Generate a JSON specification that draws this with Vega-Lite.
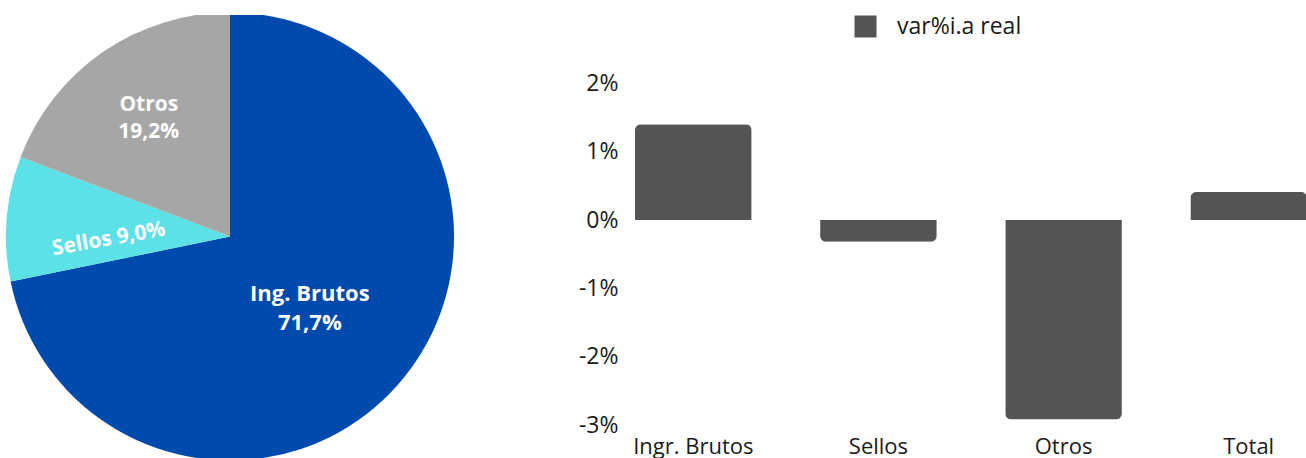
{
  "$schema": "https://vega.github.io/schema/vega-lite/v6.json",
  "padding": {"top": 15, "left": 0, "right": 0, "bottom": 0},
  "background": "white",
  "config": {"view": {"stroke": null}, "font": "Open Sans"},
  "spacing": 118,
  "resolve": {"scale": {"color": "independent"}, "legend": {"color": "independent"}},
  "hconcat": [
    {
      "width": 460,
      "height": 443,
      "data": {"values": [
        {"cat": "Ing. Brutos", "pct": 71.7, "rank": 1},
        {"cat": "Sellos", "pct": 9.0, "rank": 2},
        {"cat": "Otros", "pct": 19.2, "rank": 3}
      ]},
      "transform": [
        {"calculate": "datum.cat === 'Sellos' ? datum.cat + ' ' + replace(format(datum.pct, '.1f'), '.', ',') + '%' : datum.cat + '\\n' + replace(format(datum.pct, '.1f'), '.', ',') + '%'", "as": "label"}
      ],
      "encoding": {
        "theta": {"field": "pct", "type": "quantitative", "stack": true},
        "order": {"field": "rank", "type": "quantitative"},
        "color": {
          "field": "cat",
          "type": "nominal",
          "scale": {"domain": ["Ing. Brutos", "Sellos", "Otros"], "range": ["#004AAD", "#5CE1E6", "#A6A6A6"]},
          "legend": null
        }
      },
      "layer": [
        {"mark": {"type": "arc", "outerRadius": 224, "clip": true}},
        {
          "mark": {"type": "text", "fontWeight": "bold", "fontSize": 22, "lineBreak": "\n", "lineHeight": 29, "align": "center", "baseline": "middle", "dy": -8, "radius": 103},
          "encoding": {
            "text": {"field": "label", "type": "nominal"},
            "color": {"value": "white"},
            "opacity": {"condition": {"test": "datum.cat === 'Ing. Brutos'", "value": 1}, "value": 0}
          }
        },
        {
          "mark": {"type": "text", "fontWeight": "bold", "fontSize": 21, "lineBreak": "\n", "lineHeight": 27, "align": "center", "baseline": "middle", "dy": -13.5, "radius": 143},
          "encoding": {
            "text": {"field": "label", "type": "nominal"},
            "color": {"value": "white"},
            "opacity": {"condition": {"test": "datum.cat === 'Otros'", "value": 1}, "value": 0}
          }
        },
        {
          "mark": {"type": "text", "fontWeight": "bold", "fontSize": 21, "align": "center", "baseline": "middle", "angle": 350, "dy": 13, "radius": 124},
          "encoding": {
            "text": {"field": "label", "type": "nominal"},
            "color": {"value": "white"},
            "opacity": {"condition": {"test": "datum.cat === 'Sellos'", "value": 1}, "value": 0}
          }
        }
      ]
    },
    {
      "width": 681,
      "height": 410,
      "data": {"values": [
        {"cat": "Ingr. Brutos", "v": 0.0140},
        {"cat": "Sellos", "v": -0.0032},
        {"cat": "Otros", "v": -0.0292},
        {"cat": "Total", "v": 0.0041}
      ]},
      "encoding": {
        "x": {
          "field": "cat",
          "type": "nominal",
          "sort": ["Ingr. Brutos", "Sellos", "Otros", "Total"],
          "scale": {"range": [9, 681], "paddingInner": 0.37, "paddingOuter": 0},
          "axis": {"title": null, "labelAngle": 0, "domain": false, "ticks": false, "labelPadding": 11, "labelFontSize": 22, "labelColor": "#1a1a1a"}
        },
        "y": {
          "field": "v",
          "type": "quantitative",
          "scale": {"domain": [-0.03, 0.03], "nice": false},
          "axis": {"title": null, "values": [-0.03, -0.02, -0.01, 0, 0.01, 0.02], "format": ".0%", "labelExpr": "replace(datum.label, '\u2212', '-')", "domain": false, "ticks": false, "grid": false, "labelPadding": 8, "labelFontSize": 23, "labelColor": "#1a1a1a"}
        },
        "color": {
          "datum": "var%i.a real",
          "scale": {"range": ["#545454"]},
          "legend": {"orient": "none", "legendX": 228, "legendY": 0, "title": null, "symbolType": "square", "symbolSize": 484, "labelFontSize": 23, "labelColor": "#1a1a1a", "padding": 0, "labelOffset": 20, "symbolStrokeWidth": 0, "symbolOpacity": 1}
        }
      },
      "layer": [
        {
          "transform": [{"filter": "datum.v >= 0"}],
          "mark": {"type": "bar", "cornerRadiusTopLeft": 6, "cornerRadiusTopRight": 6}
        },
        {
          "transform": [{"filter": "datum.v < 0"}],
          "mark": {"type": "bar", "cornerRadiusBottomLeft": 6, "cornerRadiusBottomRight": 6}
        }
      ]
    }
  ]
}
